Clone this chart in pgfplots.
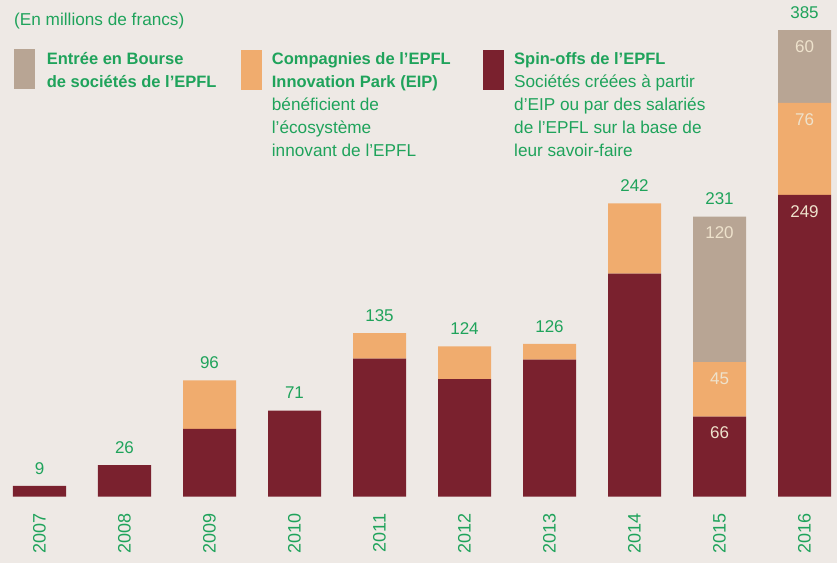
\documentclass[border=0pt]{standalone}
\usepackage{fontspec}
\setmainfont{Liberation Sans}
\usepackage{pgfplots}
\usepackage{pgfplotstable}
\pgfplotsset{compat=1.18}

\definecolor{fond}{HTML}{EEE9E5}
\definecolor{vert}{HTML}{1FA35B}
\definecolor{bordeaux}{HTML}{7A212E}
\definecolor{eipcol}{HTML}{F0AC6E}
\definecolor{boursecol}{HTML}{B8A594}
\definecolor{clair}{HTML}{EEE2CC}

% montants en millions de francs
\pgfplotstableread{
year spin eip bourse
2007 9   0  0
2008 26  0  0
2009 56  40 0
2010 71  0  0
2011 114 21 0
2012 97  27 0
2013 113 13 0
2014 184 58 0
2015 66  45 120
2016 249 76 60
}\montants

% totaux (au-dessus des barres)
\pgfplotstableread{
x tot
0 9
1 26
2 96
3 71
4 135
5 124
6 126
7 242
8 231
9 385
}\totaux

% valeurs dans les segments : haut du segment, valeur
\pgfplotstableread{
x haut val
8 66  66
8 111 45
8 231 120
9 249 249
9 325 76
9 385 60
}\segments

\newcommand{\txt}{\fontsize{17.2}{20}\selectfont}
\newcommand{\txtb}{\fontsize{16.5}{20}\selectfont\bfseries}
\newcommand{\num}{\fontsize{17}{20}\selectfont}
\newcommand{\ligne}[4]{\node[anchor=base west, inner sep=0pt, text=vert, font=#1] at (#2pt,#3pt) {#4};}

\pgfplotsset{cadre/.style={
    at={(0pt,0pt)}, anchor=south west,
    scale only axis,
    width=837pt, height=496.7pt,
    xmin=-0.4647, xmax=9.3824,
    ymin=0, ymax=409.8,
    enlargelimits=false,
    axis line style={draw=none},
    tick style={draw=none},
    ytick=\empty,
    clip=false,
}}

\begin{document}
\begin{tikzpicture}
\fill[fond] (0pt,-66.3pt) rectangle (837pt,496.7pt);
\begin{axis}[
    cadre,
    ybar stacked,
    bar width=53pt,
    xtick={0,...,9},
    xticklabels from table={\montants}{year},
    xticklabel style={rotate=90, anchor=east, inner sep=0pt, text=vert,
        font=\fontsize{18}{18}\selectfont},
    xticklabel shift=17pt,
]
\addplot[fill=bordeaux, draw=none] table[x expr=\coordindex, y=spin] {\montants};
\addplot[fill=eipcol, draw=none] table[x expr=\coordindex, y=eip] {\montants};
\addplot[fill=boursecol, draw=none] table[x expr=\coordindex, y=bourse] {\montants};
\end{axis}

% étiquettes : totaux et valeurs dans les segments
\begin{axis}[cadre, xtick=\empty, point meta=explicit symbolic]
\addplot[only marks, mark=none,
    nodes near coords={\smash{\raisebox{8.2pt}{\num\color{vert}\pgfplotspointmeta}}}]
    table[x=x, y=tot, meta=tot] {\totaux};
\addplot[only marks, mark=none,
    nodes near coords={\smash{\raisebox{-25.8pt}{\num\color{clair}\pgfplotspointmeta}}}]
    table[x=x, y=haut, meta=val] {\segments};
\end{axis}

\ligne{\txt}{14}{471}{(En millions de francs)}
% légende
\fill[boursecol] (14pt,407.7pt) rectangle (35pt,447.7pt);
\fill[eipcol] (241pt,406.7pt) rectangle (262pt,446.7pt);
\fill[bordeaux] (483pt,406.7pt) rectangle (504pt,446.7pt);

\ligne{\txtb}{46.7}{431.7}{Entrée en Bourse}
\ligne{\txtb}{46.7}{408.7}{de sociétés de l’EPFL}

\ligne{\txtb}{271.7}{431.7}{Compagnies de l’EPFL}
\ligne{\txtb}{271.7}{408.7}{Innovation Park (EIP)}
\ligne{\txt}{271.7}{385.7}{bénéficient de}
\ligne{\txt}{271.7}{362.7}{l’écosystème}
\ligne{\txt}{271.7}{339.7}{innovant de l’EPFL}

\ligne{\txtb}{514}{431.7}{Spin-offs de l’EPFL}
\ligne{\txt}{514}{408.7}{Sociétés créées à partir}
\ligne{\txt}{514}{385.7}{d’EIP ou par des salariés}
\ligne{\txt}{514}{362.7}{de l’EPFL sur la base de}
\ligne{\txt}{514}{339.7}{leur savoir-faire}

\pgfresetboundingbox
\useasboundingbox (0pt,-66.3pt) rectangle (837pt,496.7pt);
\end{tikzpicture}
\end{document}
